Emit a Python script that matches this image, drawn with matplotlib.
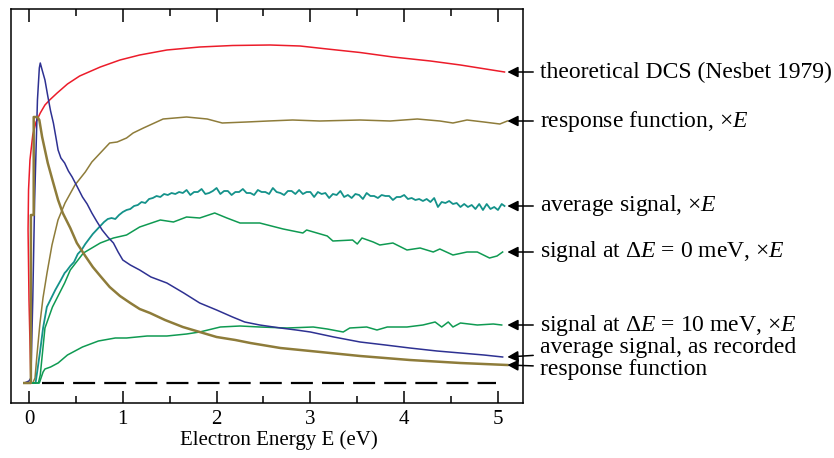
import numpy as np
import matplotlib.pyplot as plt

plt.rcParams['font.family'] = ['Liberation Serif', 'DejaVu Serif']
plt.rcParams['mathtext.fontset'] = 'custom'
plt.rcParams['mathtext.rm'] = 'Liberation Serif'
plt.rcParams['mathtext.it'] = 'Liberation Serif:italic'

# ----------------------------------------------------------------------------------------------------------------------
# curves (energy in eV, signal in arbitrary units, zero = dashed baseline)
# ----------------------------------------------------------------------------------------------------------------------

dcs_E = [-0.05, 0.02, 0.00, -0.01, -0.005, 0.01, 0.04, 0.075, 0.12, 0.17, 0.22, 0.30, 0.41, 0.54, 0.76, 0.97, 1.18,
         1.47, 1.82, 2.17, 2.57, 2.89, 3.18, 3.53, 3.88, 4.28, 4.60, 5.07]
dcs_y = [0.00, 0.00, 0.83, 1.53, 1.93, 2.23, 2.48, 2.61, 2.70, 2.78, 2.83, 2.90, 2.99, 3.07, 3.16, 3.23, 3.28,
         3.33, 3.36, 3.375, 3.38, 3.37, 3.34, 3.305, 3.26, 3.22, 3.18, 3.11]

recorded_E = [-0.05, 0.00, 0.02, 0.04, 0.06, 0.09, 0.11, 0.12, 0.14, 0.17, 0.20, 0.23, 0.26, 0.29, 0.31, 0.34, 0.38,
              0.42, 0.46, 0.51, 0.57, 0.62, 0.67, 0.72, 0.78, 0.84, 0.90, 0.95, 1.00, 1.08, 1.18, 1.30, 1.47, 1.65,
              1.82, 2.00, 2.17, 2.30, 2.46, 2.68, 2.85, 3.00, 3.25, 3.53, 3.80, 4.06, 4.35, 4.60, 4.85, 5.05]
recorded_y = [0.00, 0.02, 0.05, 0.83, 1.83, 2.83, 3.15, 3.20, 3.13, 3.03, 2.87, 2.72, 2.60, 2.44, 2.33, 2.25, 2.20,
              2.12, 2.06, 1.97, 1.86, 1.79, 1.70, 1.62, 1.53, 1.46, 1.40, 1.31, 1.23, 1.18, 1.13, 1.06, 1.00, 0.90,
              0.80, 0.73, 0.66, 0.61, 0.58, 0.55, 0.53, 0.51, 0.46, 0.41, 0.38, 0.35, 0.32, 0.30, 0.28, 0.26]

response_E = [-0.05, 0.02, 0.02, 0.05, 0.05, 0.09, 0.11, 0.14, 0.17, 0.20, 0.25, 0.31, 0.36, 0.44, 0.51, 0.60, 0.68,
              0.76, 0.86, 0.97, 1.08, 1.18, 1.29, 1.45, 1.64, 1.82, 2.00, 2.20, 2.36, 2.68, 3.00, 3.53, 4.06, 4.60,
              5.10]
response_y = [0.00, 0.00, 1.68, 1.68, 2.66, 2.66, 2.63, 2.46, 2.33, 2.20, 2.03, 1.83, 1.70, 1.55, 1.40, 1.27, 1.16,
              1.07, 0.96, 0.87, 0.80, 0.74, 0.70, 0.63, 0.56, 0.51, 0.46, 0.43, 0.40, 0.35, 0.32, 0.27, 0.23, 0.20,
              0.18]

response_xE_E = [0.04, 0.064, 0.085, 0.117, 0.149, 0.192, 0.245, 0.309, 0.384, 0.49, 0.60, 0.67, 0.76, 0.86, 0.94,
                 1.04, 1.11, 1.22, 1.43, 1.68, 1.90, 2.06, 2.32, 2.55, 2.81, 3.10, 3.53, 3.85, 4.14, 4.38, 4.52,
                 4.67, 4.85, 5.02, 5.10]
response_xE_y = [0.00, 0.05, 0.28, 0.60, 0.85, 1.10, 1.38, 1.63, 1.80, 1.98, 2.11, 2.21, 2.30, 2.40, 2.41,
                 2.45, 2.50, 2.55, 2.64, 2.66, 2.64, 2.60, 2.61, 2.62, 2.63, 2.62, 2.63, 2.62, 2.64, 2.62, 2.60,
                 2.63, 2.61, 2.59, 2.62]

avg_xE_E = [-0.05, 0.07, 0.09, 0.12, 0.15, 0.19, 0.28, 0.34, 0.38,
            0.40, 0.44, 0.48, 0.52, 0.56, 0.60, 0.64, 0.68, 0.72, 0.76, 0.80, 0.84, 0.88, 0.92, 0.96, 1.00, 1.04,
            1.08, 1.12, 1.16, 1.20, 1.24, 1.28, 1.32, 1.36, 1.40, 1.44, 1.48, 1.52, 1.56, 1.60, 1.64, 1.68, 1.72,
            1.76, 1.80, 1.84, 1.88, 1.92, 1.96, 2.00, 2.04, 2.08, 2.12, 2.16, 2.20, 2.24, 2.28, 2.32, 2.36, 2.40,
            2.44, 2.48, 2.52, 2.56, 2.60, 2.64, 2.68, 2.72, 2.76, 2.80, 2.84, 2.88, 2.92, 2.96, 3.00, 3.04, 3.08,
            3.12, 3.16, 3.20, 3.24, 3.28, 3.32, 3.36, 3.40, 3.44, 3.48, 3.52, 3.56, 3.60, 3.64, 3.68, 3.72, 3.76,
            3.80, 3.84, 3.88, 3.92, 3.96, 4.00, 4.04, 4.08, 4.12, 4.16, 4.20, 4.24, 4.28, 4.32, 4.36, 4.40, 4.44,
            4.48, 4.52, 4.56, 4.60, 4.64, 4.68, 4.72, 4.76, 4.80, 4.84, 4.88, 4.92, 4.96, 5.00, 5.04, 5.07]
avg_xE_y = [0.00, 0.00, 0.13, 0.33, 0.55, 0.76, 0.93, 1.03, 1.10,
            1.12, 1.17, 1.21, 1.29, 1.33, 1.39, 1.44, 1.49, 1.53, 1.57, 1.61, 1.64, 1.65, 1.64, 1.68, 1.71, 1.73,
            1.74, 1.77, 1.78, 1.81, 1.80, 1.84, 1.85, 1.87, 1.86, 1.89, 1.88, 1.90, 1.89, 1.91, 1.90, 1.93, 1.88,
            1.91, 1.91, 1.94, 1.89, 1.90, 1.92, 1.95, 1.89, 1.92, 1.92, 1.88, 1.91, 1.91, 1.94, 1.90, 1.90, 1.88,
            1.93, 1.91, 1.91, 1.89, 1.95, 1.91, 1.90, 1.88, 1.92, 1.92, 1.89, 1.93, 1.89, 1.91, 1.91, 1.86, 1.91,
            1.89, 1.90, 1.85, 1.89, 1.88, 1.92, 1.86, 1.88, 1.85, 1.89, 1.88, 1.84, 1.90, 1.87, 1.87, 1.85, 1.88,
            1.87, 1.87, 1.83, 1.86, 1.86, 1.88, 1.84, 1.85, 1.83, 1.84, 1.82, 1.84, 1.81, 1.85, 1.76, 1.81, 1.80,
            1.82, 1.79, 1.80, 1.76, 1.79, 1.76, 1.78, 1.74, 1.79, 1.73, 1.79, 1.74, 1.76, 1.73, 1.79, 1.77]

dE0_E = [-0.05, 0.10, 0.12, 0.17, 0.25, 0.38, 0.44, 0.58, 0.76, 0.90, 1.04, 1.18, 1.40, 1.54, 1.68, 1.82, 1.98, 2.11,
         2.25, 2.46, 2.71, 2.92, 2.96, 3.18, 3.24, 3.45, 3.50, 3.55, 3.67, 3.74, 3.88, 4.03, 4.17, 4.31, 4.38, 4.52,
         4.67, 4.78, 4.91, 4.99, 5.05]
dE0_y = [0.00, 0.00, 0.08, 0.55, 0.76, 1.00, 1.13, 1.30, 1.40, 1.45, 1.48, 1.56, 1.63, 1.61, 1.66, 1.65, 1.70, 1.65,
         1.60, 1.60, 1.54, 1.50, 1.53, 1.47, 1.42, 1.43, 1.39, 1.45, 1.41, 1.38, 1.40, 1.33, 1.35, 1.31, 1.34, 1.28,
         1.31, 1.31, 1.25, 1.27, 1.31]

dE10_E = [-0.05, 0.11, 0.15, 0.17, 0.23, 0.31, 0.41, 0.57, 0.74, 0.92, 1.04, 1.26, 1.47, 1.68, 1.82, 2.04, 2.25, 2.46,
          2.75, 3.03, 3.18, 3.35, 3.42, 3.60, 3.71, 3.82, 4.03, 4.20, 4.33, 4.40, 4.47, 4.52, 4.60, 4.78, 4.95, 5.04]
dE10_y = [0.00, 0.00, 0.11, 0.14, 0.16, 0.20, 0.28, 0.36, 0.42, 0.45, 0.45, 0.47, 0.47, 0.49, 0.51, 0.56, 0.57, 0.56,
          0.55, 0.56, 0.54, 0.51, 0.55, 0.56, 0.53, 0.56, 0.56, 0.58, 0.61, 0.56, 0.61, 0.56, 0.60, 0.58, 0.59, 0.58]

baseline_E = [0.14, 4.98]
baseline_y = [0.0, 0.0]

labels = ['theoretical DCS (Nesbet 1979)',
          'response function, $\\times E$',
          'average signal, $\\times E$',
          'signal at $\\Delta E$ = 0 meV, $\\times E$',
          'signal at $\\Delta E$ = 10 meV, $\\times E$',
          'average signal, as recorded',
          'response function']

red = '#ec1c2a'
blue = '#2e3192'
olive = '#8e7c3a'
teal = '#14928a'
green = '#0f9a52'

fig = plt.figure(figsize=(8.34, 4.58), dpi=100)
ax = fig.add_axes([11 / 834, 55 / 458, 512 / 834, 394 / 458])

ax.plot(dcs_E, dcs_y, color=red, linewidth=1.1)
ax.plot(response_xE_E, response_xE_y, color=olive, linewidth=1.1)
ax.plot(avg_xE_E, avg_xE_y, color=teal, linewidth=1.3)
ax.plot(dE0_E, dE0_y, color=green, linewidth=1.1)
ax.plot(dE10_E, dE10_y, color=green, linewidth=1.1)
ax.plot(recorded_E, recorded_y, color=blue, linewidth=1.1)
ax.plot(response_E, response_y, color=olive, linewidth=1.8)
ax.plot(baseline_E, baseline_y, color='black', linewidth=1.6, dashes=(9.9, 4.1))

ax.set_xlim(-0.192, 5.267)
ax.set_ylim(-0.20, 3.74)
ax.set_xticks([0, 1, 2, 3, 4, 5])
ax.set_xticks([0.5, 1.5, 2.5, 3.5, 4.5], minor=True)
ax.set_yticks([])
ax.tick_params(axis='x', which='both', direction='in', top=True, width=1.1, labelsize=15, pad=5)
ax.tick_params(axis='x', which='major', length=9)
ax.tick_params(axis='x', which='minor', length=5)
for s in ax.spines.values():
    s.set_linewidth(1.1)

ax.set_xlabel('Electron Energy E (eV)', fontsize=15, labelpad=1)
ax.xaxis.label.set_x(0.523)

# arrows pointing at the right-hand ends of the curves
ends = [dcs_y[-1], response_xE_y[-1], avg_xE_y[-1], dE0_y[-1], dE10_y[-1], recorded_y[-1], response_y[-1]]
text_y = [ends[0], ends[1], ends[2], ends[3], ends[4], 0.36, 0.14]
for lab, yt, yt_txt in zip(labels, ends, text_y):
    ax.annotate(lab, xy=(5.10, yt), xytext=(5.45, yt_txt), fontsize=17, ha='left', va='center',
                annotation_clip=False,
                arrowprops=dict(arrowstyle='-|>', color='black', lw=1.1, mutation_scale=16,
                                shrinkA=3, shrinkB=0))

fig.savefig('out.png', dpi=100)
